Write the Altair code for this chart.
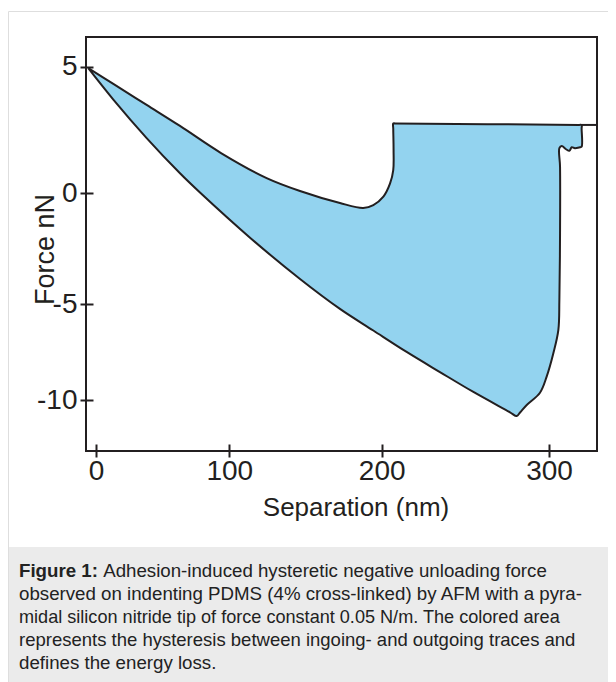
import altair as alt
import pandas as pd

# ---- data (Separation in nm, Force in nN) ----
# hysteresis loop outline, traced from the apex: outgoing trace down, jump-off, then ingoing trace back
loop_x = [-5.8, 13.0, 38.0, 63.0, 78.0, 113.6, 146.4, 172.6, 194.5, 214.9, 234.8, 254.8, 276.7,
          280.7, 282.7,
          286.7, 294.6, 298.6, 302.6, 305.6, 306.2, 306.6, 306.6, 306.2,
          307.6, 310.2, 312.2, 313.6, 315.5, 318.5, 319.5, 319.5, 319.5, 318.0,
          208.0, 206.9, 206.9, 207.1, 206.9, 205.0, 201.0, 194.5, 187.9, 172.6, 146.4, 124.5, 93.8,
          63.0, 38.0, 13.0, -5.8]
loop_y = [4.94, 3.70, 2.18, 0.79, 0.03, -2.00, -3.86, -5.24, -6.37, -7.49, -8.54, -9.58, -10.64,
          -10.84, -10.65,
          -10.26, -9.62, -8.78, -7.56, -6.34, -4.81, -1.79, 1.05, 1.78,
          1.87, 1.74, 1.68, 1.82, 1.78, 1.82, 1.84, 2.55, 2.70, 2.70,
          2.76, 2.76, 2.55, 1.71, 0.92, 0.39, -0.15, -0.53, -0.66, -0.44, 0.09, 0.60, 1.59,
          2.66, 3.49, 4.32, 4.94]
# free-cantilever baseline to the right of the loop
tail_x = [319.5, 328.5]
tail_y = [2.70, 2.70]

x_ticks = [0, 100, 200, 300]
y_ticks = [-10, -5, 0, 5]

caption_bold = "Figure 1:"
caption_lines = [
    "Adhesion-induced hysteretic negative unloading force",
    "observed on indenting PDMS (4% cross-linked) by AFM with a pyra-",
    "midal silicon nitride tip of force constant 0.05 N/m. The colored area",
    "represents the hysteresis between ingoing- and outgoing traces and",
    "defines the energy loss.",
]

# ---- layout / style ----
W, H = 511, 414
FONT = "Liberation Sans"
INK = "#231f20"
FILL = "#93d3ef"
CAP_SIZES = [18.7, 18.7, 18.1, 18.5, 18.7]

# the original axes are not evenly spaced: piecewise-linear scales reproduce them
x_scale = alt.Scale(domain=[-7.5, 0, 100, 200, 300, 328.7],
                    range=[0, 10, 143.3, 295.7, 463, W], nice=False, zero=False)
y_scale = alt.Scale(domain=[-12.66, -10, -5, 0, 5, 6.17],
                    range=[H, 363, 267.3, 156.3, 29.7, 0], nice=False, zero=False)

x_axis = alt.Axis(values=x_ticks, title="Separation (nm)", offset=-7, tickSize=13, domain=False,
                  grid=False, labelExpr="toString(datum.value)", labelFontSize=28,
                  labelBaseline="top", labelPadding=0, labelFlush=False,
                  titleFontSize=26, titleX=269.5, titleY=71, titleBaseline="alphabetic",
                  titleAlign="center")
y_axis = alt.Axis(values=y_ticks, title="Force nN", offset=-7, tickSize=13, domain=False,
                  grid=False, labelExpr="toString(datum.value)", labelFontSize=28,
                  labelPadding=3, labelFlush=False,
                  titleFontSize=27, titleX=-40, titleY=212, titleBaseline="alphabetic",
                  titleAlign="center", titleAngle=270)

loop_df = pd.DataFrame({"x": loop_x, "y": loop_y, "i": range(len(loop_x))})
tail_df = pd.DataFrame({"x": tail_x, "y": tail_y, "i": range(len(tail_x))})
dummy = pd.DataFrame({"k": [0]})

caption_bg = alt.Chart(dummy).mark_rect(color="#ebebeb").encode(
    x=alt.value(-78), x2=alt.value(530), y=alt.value(510), y2=alt.value(660))
border_top = alt.Chart(dummy).mark_rule(color="#dedede", strokeWidth=1).encode(
    x=alt.value(-77.5), x2=alt.value(530), y=alt.value(-25.5))
border_left = alt.Chart(dummy).mark_rule(color="#dedede", strokeWidth=1).encode(
    x=alt.value(-77.5), y=alt.value(-25.5), y2=alt.value(660))

loop = alt.Chart(loop_df).mark_line(
    filled=True, fill=FILL, stroke=INK, strokeWidth=2, strokeJoin="round",
    interpolate="catmull-rom"
).encode(
    x=alt.X("x:Q", scale=x_scale, axis=x_axis),
    y=alt.Y("y:Q", scale=y_scale, axis=y_axis),
    order="i:Q",
)
tail = alt.Chart(tail_df).mark_line(stroke=INK, strokeWidth=2).encode(
    x=alt.X("x:Q", scale=x_scale), y=alt.Y("y:Q", scale=y_scale), order="i:Q")

caption_layers = [
    alt.Chart(dummy).mark_text(
        text=caption_bold, font=FONT, fontSize=CAP_SIZES[0], fontWeight="bold", align="left",
        baseline="alphabetic", color="#222222").encode(x=alt.value(-67), y=alt.value(540))
]
for k, line in enumerate(caption_lines):
    x0 = -67 + (4.501 * CAP_SIZES[0] if k == 0 else 0)
    caption_layers.append(
        alt.Chart(dummy).mark_text(
            text=line, font=FONT, fontSize=CAP_SIZES[k], align="left",
            baseline="alphabetic", color="#222222"
        ).encode(x=alt.value(x0), y=alt.value(540 + 23 * k))
    )

chart = alt.layer(
    caption_bg, border_top, border_left, loop, tail, *caption_layers
).properties(
    width=W, height=H,
    padding={"left": 78, "top": 29, "right": 11, "bottom": 231},
    autosize=alt.AutoSizeParams(type="none"),
).configure_view(
    stroke=INK, strokeWidth=2
).configure_axis(
    labelFont=FONT, titleFont=FONT, labelColor=INK, titleColor=INK,
    tickColor=INK, tickWidth=2, titleFontWeight="normal"
)

chart.save("out.html", embed_options={"renderer": "svg", "actions": False})
